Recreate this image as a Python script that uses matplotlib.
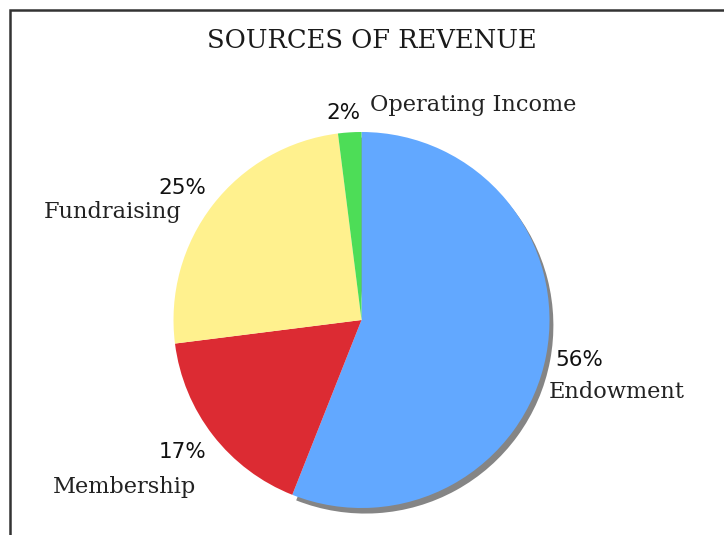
import matplotlib
matplotlib.use("Agg")
import matplotlib.pyplot as plt
from matplotlib.patches import Rectangle, Shadow

# ---- data ----
categories = ["Endowment", "Membership", "Fundraising", "Operating Income"]
shares = [56, 17, 25, 2]
pct_labels = ["56%", "17%", "25%", "2%"]
colors = ["#62A8FF", "#DC2B33", "#FFF18E", "#4DDD57"]
title = "SOURCES OF REVENUE"

W, H = 724, 535
fig = plt.figure(figsize=(W / 100, H / 100), dpi=100)
fig.patch.set_facecolor("white")

# pie geometry in pixels
cx, cy, R = 361.5, 320.0, 188.0
ax = fig.add_axes([0, 0, 1, 1])

def px(x, y):
    return (x - cx) / R, (cy - y) / R

wedges, _ = ax.pie(
    shares, colors=colors, startangle=90, counterclock=False,
    radius=1.0, center=(0, 0), frame=False,
    wedgeprops=dict(linewidth=0),
    shadow=dict(ox=2.8 / R, oy=-4.0 / R, facecolor="#858585",
                edgecolor="#858585", alpha=1.0),
)
# keep the drop shadow only where the reference shows it
for p in list(ax.patches):
    if isinstance(p, Shadow) and p.patch not in (wedges[0], wedges[3]):
        p.remove()

ax.set_xlim(-cx / R, (W - cx) / R)
ax.set_ylim(-(H - cy) / R, cy / R)
ax.set_aspect("equal")
ax.axis("off")

# label layout (pixel positions of percentage / name labels)
layout = {
    "Endowment": dict(pct=(555, 360, "left"), name=(549, 392, "left")),
    "Membership": dict(pct=(206, 452, "right"), name=(53, 487, "left")),
    "Fundraising": dict(pct=(206, 188, "right"), name=(44, 212, "left")),
    "Operating Income": dict(pct=(361, 113, "right"), name=(370, 105, "left")),
}

for cat, pct in zip(categories, pct_labels):
    lp = layout[cat]
    x, y, ha = lp["pct"]
    ax.text(*px(x, y), pct, ha=ha, va="center", fontsize=15.5,
            family="DejaVu Sans", color="#111111")
    x, y, ha = lp["name"]
    ax.text(*px(x, y), cat, ha=ha, va="center", fontsize=16.2,
            family="DejaVu Serif", color="#222222")

fig.text(372 / W, 1 - 40 / H, title, ha="center", va="center",
         fontsize=18.5, family="DejaVu Serif", color="#1a1a1a")

# frame
fig.add_artist(Rectangle((10 / W, -0.1), 1.2, 1.1 - 10 / H,
                         transform=fig.transFigure, fill=False,
                         edgecolor="#333333", linewidth=1.8))

fig.savefig("out.png", dpi=100, facecolor="white")
